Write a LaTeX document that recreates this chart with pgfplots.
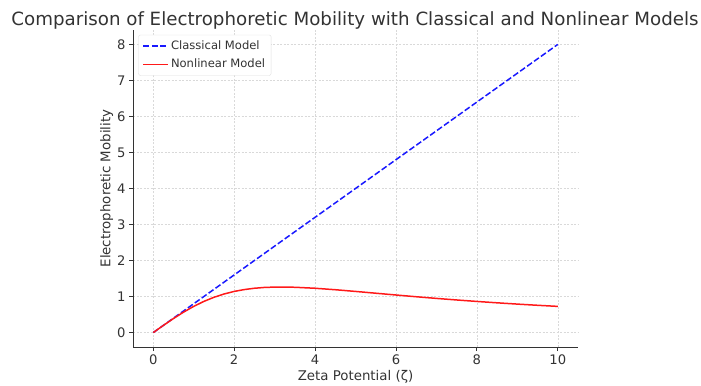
\documentclass[border=0pt]{standalone}
\usepackage{pgfplots}
\pgfplotsset{compat=1.18}
\usepackage{fontspec}
\setmainfont{DejaVu Sans}
\begin{document}
\begin{tikzpicture}[x=1bp,y=1bp]
\useasboundingbox (0,0) rectangle (701,385);
\node[font=\fontsize{18.3}{20}\selectfont, text=black!80] at (355,365) {Comparison of Electrophoretic Mobility with Classical and Nonlinear Models};
\begin{axis}[
  at={(133bp,38bp)}, anchor=south west,
  width=445bp, height=317bp, scale only axis,
  xmin=-0.5, xmax=10.5, ymin=-0.4, ymax=8.4,
  xtick={0,2,4,6,8,10}, ytick={0,1,2,3,4,5,6,7,8},
  axis x line*=bottom, axis y line*=left,
  axis line style={black!80, line width=1pt},
  tick style={black!80, line width=0.8pt},
  tick align=outside, major tick length=4bp,
  grid=major, grid style={dash pattern=on 2bp off 1.5bp, gray!30, line width=0.4pt},
  ticklabel style={font=\fontsize{13.2}{15}\selectfont, text=black!80},
  /pgf/number format/assume math mode=true,
  xlabel={Zeta Potential (ζ)}, ylabel={Electrophoretic Mobility},
  label style={font=\fontsize{13.4}{15}\selectfont, text=black!80},
  xlabel style={yshift=1bp}, ylabel style={yshift=-3bp},
  legend style={font=\fontsize{11.6}{13}\selectfont, text=black!80, draw=gray!25, rounded corners=2pt, at={(0.012,0.985)}, anchor=north west, row sep=4bp, inner xsep=4bp, inner ysep=4bp},
  legend image code/.code={\draw[#1] (0bp,0bp) -- (25bp,0bp);},
  legend cell align=left,
]
\addplot[blue!90!white, dash pattern=on 6bp off 2.5bp, line width=1.5pt] coordinates {(0,0) (10,8)};
\addlegendentry{Classical Model}
\addplot[red!90!white, line width=1.5pt] coordinates {
(0,0) (0.25,0.1988) (0.5,0.3902) (0.75,0.5680) (1,0.7273) (1.25,0.8649) (1.5,0.9796) (1.75,1.0711) (2,1.1429) (2.25,1.1942) (2.5,1.2308) (2.75,1.2536) (3,1.2632) (3.25,1.2626) (3.5,1.2584) (4,1.2308) (4.5,1.1901) (5,1.1429) (5.5,1.0932) (6,1.0435) (6.5,0.9952) (7,0.9492) (7.5,0.9057) (8,0.8649) (8.5,0.8267) (9,0.7912) (9.5,0.7581) (10,0.7273)};
\addlegendentry{Nonlinear Model}
\end{axis}
\end{tikzpicture}
\end{document}
